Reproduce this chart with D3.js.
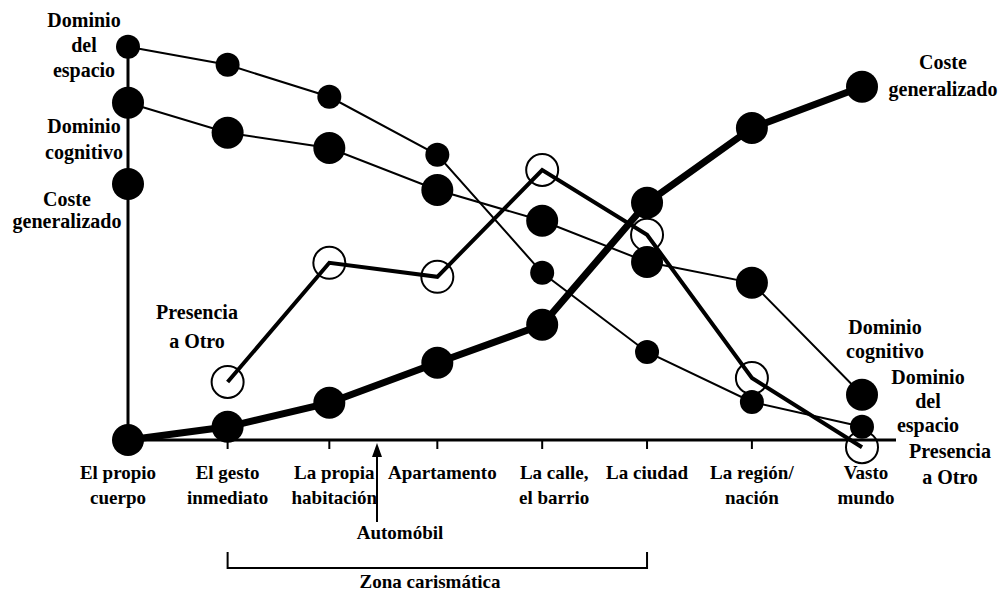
<!DOCTYPE html>
<html><head><meta charset="utf-8">
<script src="https://cdn.jsdelivr.net/npm/d3@7"></script>
<style>body{margin:0;background:#fff}</style>
</head><body><svg id="c" width="1004" height="593"></svg>
<script>
// categories (position along the scale axis)
const categories = [
  ["El propio","cuerpo"],["El gesto","inmediato"],["La propia","habitación"],["Apartamento"],
  ["La calle,","el barrio"],["La ciudad"],["La región/","nación"],["Vasto","mundo"]];
const catPos = [0, 0.95, 1.92, 2.95, 3.95, 4.95, 5.95, 7];
const dominioEspacio   = [98.3, 93.8, 85.8, 71.3, 41.8, 22, 9.5, 3.3];
const dominioCognitivo = [84.3, 76.8, 73, 62.5, 54.8, 44.5, 39.3, 11.3];
const costeGeneral     = [0, 3.3, 9.3, 19.3, 28.8, 59.3, 78, 88.3];
const presenciaOtro    = [null, 14.5, 44.3, 40.8, 67.5, 51.3, 15.5, -1.8];
const costeAxisMarker  = 64;

const FONT = "'Liberation Serif', 'Times New Roman', Times, 'DejaVu Serif', serif";
const svg = d3.select("#c").attr("font-family",FONT).attr("font-weight","bold");
const x = d3.scaleLinear().domain([0,7]).range([128,862]);
const y = d3.scaleLinear().domain([0,100]).range([440,40]);

// axes
svg.append("line").attr("x1",x(0)).attr("x2",896).attr("y1",y(0)).attr("y2",y(0)).attr("stroke","#000").attr("stroke-width",3);
svg.append("line").attr("x1",x(0)).attr("x2",x(0)).attr("y1",y(0)).attr("y2",y(99)).attr("stroke","#000").attr("stroke-width",3);
const tickIdx = [1,2,3,4,5,6];
svg.selectAll(".tk").data(tickIdx).join("line")
  .attr("x1",i=>x(catPos[i])).attr("x2",i=>x(catPos[i])).attr("y1",y(0)).attr("y2",y(0)+9)
  .attr("stroke","#000").attr("stroke-width",2);

// category labels
const lab = svg.append("g").attr("font-size",19).attr("text-anchor","middle");
categories.forEach((c,i)=>{
  const cx = x(catPos[i]) + (i===0?-10:(i===4?12:(i===2?5:(i===3?5:(i===7?4:0)))));
  c.forEach((t,j)=>lab.append("text").attr("font-family",FONT).attr("x",cx).attr("y",y(0)+39+j*25).text(t));
});

// series lines
const line = d3.line().defined(d=>d[1]!==null).x(d=>x(d[0])).y(d=>y(d[1]));
function pts(arr){return arr.map((v,i)=>[catPos[i],v]);}
svg.append("path").attr("d",line(pts(dominioEspacio))).attr("fill","none").attr("stroke","#000").attr("stroke-width",2);
svg.append("path").attr("d",line(pts(dominioCognitivo))).attr("fill","none").attr("stroke","#000").attr("stroke-width",2);
svg.append("path").attr("d",line(pts(costeGeneral))).attr("fill","none").attr("stroke","#000").attr("stroke-width",7).attr("stroke-linejoin","round");
svg.append("path").attr("d",line(pts(presenciaOtro))).attr("fill","none").attr("stroke","#000").attr("stroke-width",4).attr("stroke-linejoin","miter");

// dots
svg.selectAll(".de").data(pts(dominioEspacio)).join("circle").attr("cx",d=>x(d[0])).attr("cy",d=>y(d[1])).attr("r",12);
svg.selectAll(".dc").data(pts(dominioCognitivo)).join("circle").attr("cx",d=>x(d[0])).attr("cy",d=>y(d[1])).attr("r",16);
svg.selectAll(".cg").data(pts(costeGeneral)).join("circle").attr("cx",d=>x(d[0])).attr("cy",d=>y(d[1])).attr("r",16);
svg.append("circle").attr("cx",x(0)).attr("cy",y(costeAxisMarker)).attr("r",16);
svg.selectAll(".po").data(pts(presenciaOtro).filter(d=>d[1]!==null)).join("circle")
  .attr("cx",d=>x(d[0])).attr("cy",d=>y(d[1])).attr("r",16).attr("fill","none").attr("stroke","#000").attr("stroke-width",2);

// series labels
const sl = svg.append("g").attr("font-size",20).attr("text-anchor","middle");
function ml(lines,cx,cy0,dy){lines.forEach((t,j)=>sl.append("text").attr("font-family",FONT).attr("x",cx).attr("y",cy0+j*dy).text(t));}
ml(["Dominio","del","espacio"],84,27,25);
ml(["Dominio","cognitivo"],84,133,26);
ml(["Coste","generalizado"],67,206,22);
ml(["Presencia","a Otro"],197,319,29);
ml(["Coste","generalizado"],943,69,27);
ml(["Dominio","cognitivo"],885,334,24);
ml(["Dominio","del","espacio"],928,384,24);
ml(["Presencia","a Otro"],950,458,26);

// automobile arrow
const ax = 377;
svg.append("line").attr("x1",ax).attr("x2",ax).attr("y1",522).attr("y2",452).attr("stroke","#000").attr("stroke-width",2);
svg.append("path").attr("d",`M${ax},443 L${ax-5},457 L${ax+5},457 Z`).attr("fill","#000");
const bl = svg.append("g").attr("font-size",19).attr("text-anchor","middle");
bl.append("text").attr("font-family",FONT).attr("x",400).attr("y",539).text("Automóbil");

// zona carismática bracket
const bx1 = x(catPos[1]), bx2 = x(catPos[5]);
svg.append("path").attr("d",`M${bx1},552 V568 H${bx2} V552`).attr("fill","none").attr("stroke","#000").attr("stroke-width",2);
bl.append("text").attr("font-family",FONT).attr("x",430).attr("y",588).text("Zona carismática");
</script></body></html>
